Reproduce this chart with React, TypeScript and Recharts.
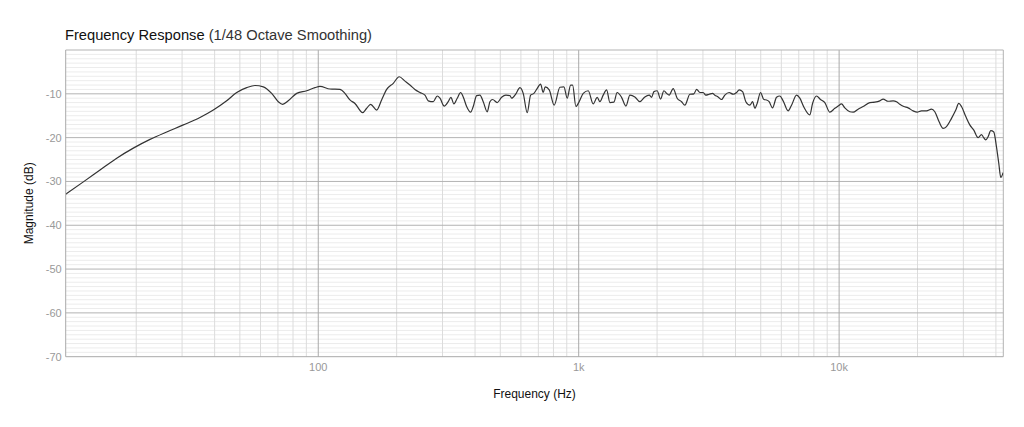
import { LineChart, Line, XAxis, YAxis, ReferenceLine } from "recharts";

const freqHz = [
  10.72, 12.53, 14.52, 16.83, 19.49, 22.59, 26.18, 30.33, 35.14, 39.54,
  44.5, 48.63, 53.11, 57.15, 61.5, 66.24, 70.22, 72.99, 76.69, 82.63,
  90.27, 97.12, 101.5, 110.9, 121.1, 126.6, 132.3, 138.3, 148.1, 153.4,
  158.9, 167.6, 175.1, 183.1, 194.1, 204.6, 215.2, 224.9, 235.0, 245.7,
  256.8, 264.4, 276.4, 286.3, 293.3, 304.6, 315.5, 323.1, 331.8, 341.7,
  352.1, 360.3, 371.3, 384.6, 393.6, 405.6, 417.6, 430.0, 445.5, 456.2,
  467.2, 486.5, 505.8, 525.4, 544.4, 552.6, 574.0, 594.8, 612.3, 634.4,
  653.8, 673.0, 689.3, 714.1, 730.7, 743.8, 770.6, 805.4, 847, 877.5,
  903.5, 931, 947.6, 975.6, 1004, 1041, 1088, 1137, 1178, 1206,
  1242, 1280, 1318, 1365, 1405, 1461, 1518, 1573, 1643, 1717,
  1795, 1865, 1905, 1945, 2001, 2063, 2124, 2175, 2226, 2306,
  2388, 2483, 2556, 2673, 2769, 2836, 2920, 3006, 3078, 3170,
  3266, 3333, 3431, 3536, 3641, 3782, 3919, 4038, 4132, 4258,
  4384, 4542, 4652, 4747, 4844, 4992, 5139, 5264, 5386, 5550,
  5750, 5921, 6095, 6371, 6566, 6863, 7066, 7320, 7719, 7906,
  8189, 8484, 8813, 9212, 9627, 9913, 10213, 10517, 10991, 11316,
  11829, 12365, 13121, 13713, 14331, 14756, 15424, 16122, 16612, 17100,
  17720, 18405, 19237, 19927, 20720, 21656, 22635, 23306, 24207, 25075,
  25842, 27011, 28054, 28808, 29506, 30647, 31754, 32898, 34172, 35213,
  35718, 36575, 37325, 38222, 39256, 40200, 41033, 41759, 42625,
];

const magnitudeDb = [
  -32.9, -30.1, -27.4, -24.7, -22.4, -20.4, -18.7, -17.1, -15.4, -13.7,
  -11.6, -9.7, -8.6, -8.1, -8.4, -9.9, -11.8, -12.4, -11.6, -9.9,
  -9.3, -8.6, -8.3, -8.9, -9.0, -9.9, -11.4, -12.2, -14.3, -13.3,
  -12.4, -13.7, -11.4, -9.0, -7.6, -6.1, -7.1, -8.0, -9.0, -9.7,
  -10.3, -11.6, -11.8, -10.5, -11.0, -12.8, -11.8, -10.8, -12.3, -11.0,
  -9.7, -10.7, -12.9, -14.2, -12.9, -10.4, -10.3, -11.8, -14.1, -11.8,
  -11.3, -12.0, -10.8, -10.3, -10.4, -11.0, -10.0, -8.6, -9.9, -14.3,
  -10.3, -9.9, -9.0, -7.8, -9.7, -8.4, -9.1, -12.6, -8.5, -8.4,
  -11.0, -8.0, -8.0, -12.9, -11.8, -9.9, -9.3, -12.3, -10.8, -11.8,
  -10.3, -9.1, -12.0, -11.9, -9.7, -10.8, -12.8, -10.3, -10.7, -11.8,
  -10.7, -10.3, -10.8, -9.5, -9.3, -11.2, -9.3, -9.9, -10.3, -8.8,
  -11.0, -11.8, -12.6, -10.1, -10.0, -9.0, -9.7, -9.7, -10.3, -10.1,
  -9.9, -10.3, -10.7, -11.3, -10.3, -9.7, -10.1, -9.7, -9.1, -9.5,
  -11.8, -12.6, -11.8, -13.3, -12.2, -9.7, -11.3, -11.4, -11.8, -13.2,
  -10.8, -10.5, -11.6, -13.9, -12.6, -10.3, -11.0, -13.0, -14.8, -12.2,
  -10.5, -11.3, -12.0, -14.2, -13.3, -12.8, -12.3, -13.2, -14.1, -14.2,
  -13.5, -12.9, -12.0, -11.9, -11.6, -11.2, -11.7, -11.6, -11.8, -12.4,
  -12.9, -13.2, -13.9, -14.2, -13.9, -13.9, -13.5, -14.1, -16.4, -17.9,
  -17.5, -15.6, -13.7, -12.2, -12.9, -15.2, -17.1, -18.3, -20.0, -19.3,
  -19.8, -20.5, -19.8, -18.4, -18.7, -22.1, -25.9, -29.1, -28.0,
];

const xDomain = [10.72, 42700];
const xTicks = [100, 1000, 10000];
const xTickLabels: Record<number, string> = { 100: "100", 1000: "1k", 10000: "10k" };
const yTicks = [-70, -60, -50, -40, -30, -20, -10];

// grid lines
const majorFreqLines = [100, 1000, 10000];
const minorFreqLines = [
  20, 30, 40, 50, 60, 70, 80, 90,
  200, 300, 400, 500, 600, 700, 800, 900,
  2000, 3000, 4000, 5000, 6000, 7000, 8000, 9000,
  20000, 30000, 40000,
];
const majorDbLines = [-60, -50, -40, -30, -20, -10];
const minorDbLines: number[] = [];
for (let v = -69; v < 0; v++) {
  if (v % 10 !== 0) minorDbLines.push(v);
}

const data = freqHz.map((f, i) => ({ f, db: magnitudeDb[i] }));

const FONT = '"Liberation Sans", Arial, Helvetica, sans-serif';

export default function App() {
  return (
    <div style={{ position: "absolute", left: 0, top: 0, width: 1024, height: 427, fontFamily: FONT }}>
      <div
        style={{
          position: "absolute",
          left: 65,
          top: 26.5,
          fontSize: 14.7,
          lineHeight: "16px",
          color: "#111",
          whiteSpace: "nowrap",
        }}
      >
        <span>Frequency Response</span>
        <span style={{ color: "#333" }}> (1/48 Octave Smoothing)</span>
      </div>

      <LineChart
        width={1024}
        height={427}
        data={data}
        margin={{ top: 50, right: 20.7, bottom: 26.3, left: 15 }}
      >
        <XAxis
          dataKey="f"
          type="number"
          scale="log"
          domain={xDomain}
          allowDataOverflow
          ticks={xTicks}
          tickFormatter={(v) => xTickLabels[v] ?? String(v)}
          tickLine={false}
          tickSize={0}
          tickMargin={6}
          height={44}
          axisLine={{ stroke: "#a9a9a9" }}
          tick={{ fill: "#999", fontSize: 11, fontFamily: FONT }}
          label={{
            value: "Frequency (Hz)",
            position: "insideBottom",
            offset: 3,
            fill: "#111",
            fontSize: 12,
            fontFamily: FONT,
          }}
        />
        <YAxis
          type="number"
          domain={[-70, 0]}
          ticks={yTicks}
          allowDataOverflow
          tickLine={false}
          tickSize={0}
          tickMargin={4}
          width={50.7}
          axisLine={{ stroke: "#a9a9a9" }}
          tick={{ fill: "#999", fontSize: 11, fontFamily: FONT }}
          label={{
            value: "Magnitude (dB)",
            angle: -90,
            position: "insideLeft",
            offset: 14,
            fill: "#111",
            fontSize: 12,
            fontFamily: FONT,
            style: { textAnchor: "middle" },
          }}
        />

        {minorDbLines.map((v) => (
          <ReferenceLine key={`hy${v}`} y={v} stroke="#ececec" strokeWidth={1} />
        ))}
        {minorFreqLines.map((v) => (
          <ReferenceLine key={`hx${v}`} x={v} stroke="#dcdcdc" strokeWidth={1} />
        ))}
        {majorDbLines.map((v) => (
          <ReferenceLine key={`my${v}`} y={v} stroke="#b3b3b3" strokeWidth={1} />
        ))}
        {majorFreqLines.map((v) => (
          <ReferenceLine key={`mx${v}`} x={v} stroke="#a9a9a9" strokeWidth={1} />
        ))}
        <ReferenceLine y={0} stroke="#b3b3b3" strokeWidth={1} />
        <ReferenceLine x={xDomain[1]} stroke="#b3b3b3" strokeWidth={1} />

        <Line
          type="monotone"
          dataKey="db"
          stroke="#333"
          strokeWidth={1.2}
          dot={false}
          isAnimationActive={false}
        />
      </LineChart>
    </div>
  );
}
